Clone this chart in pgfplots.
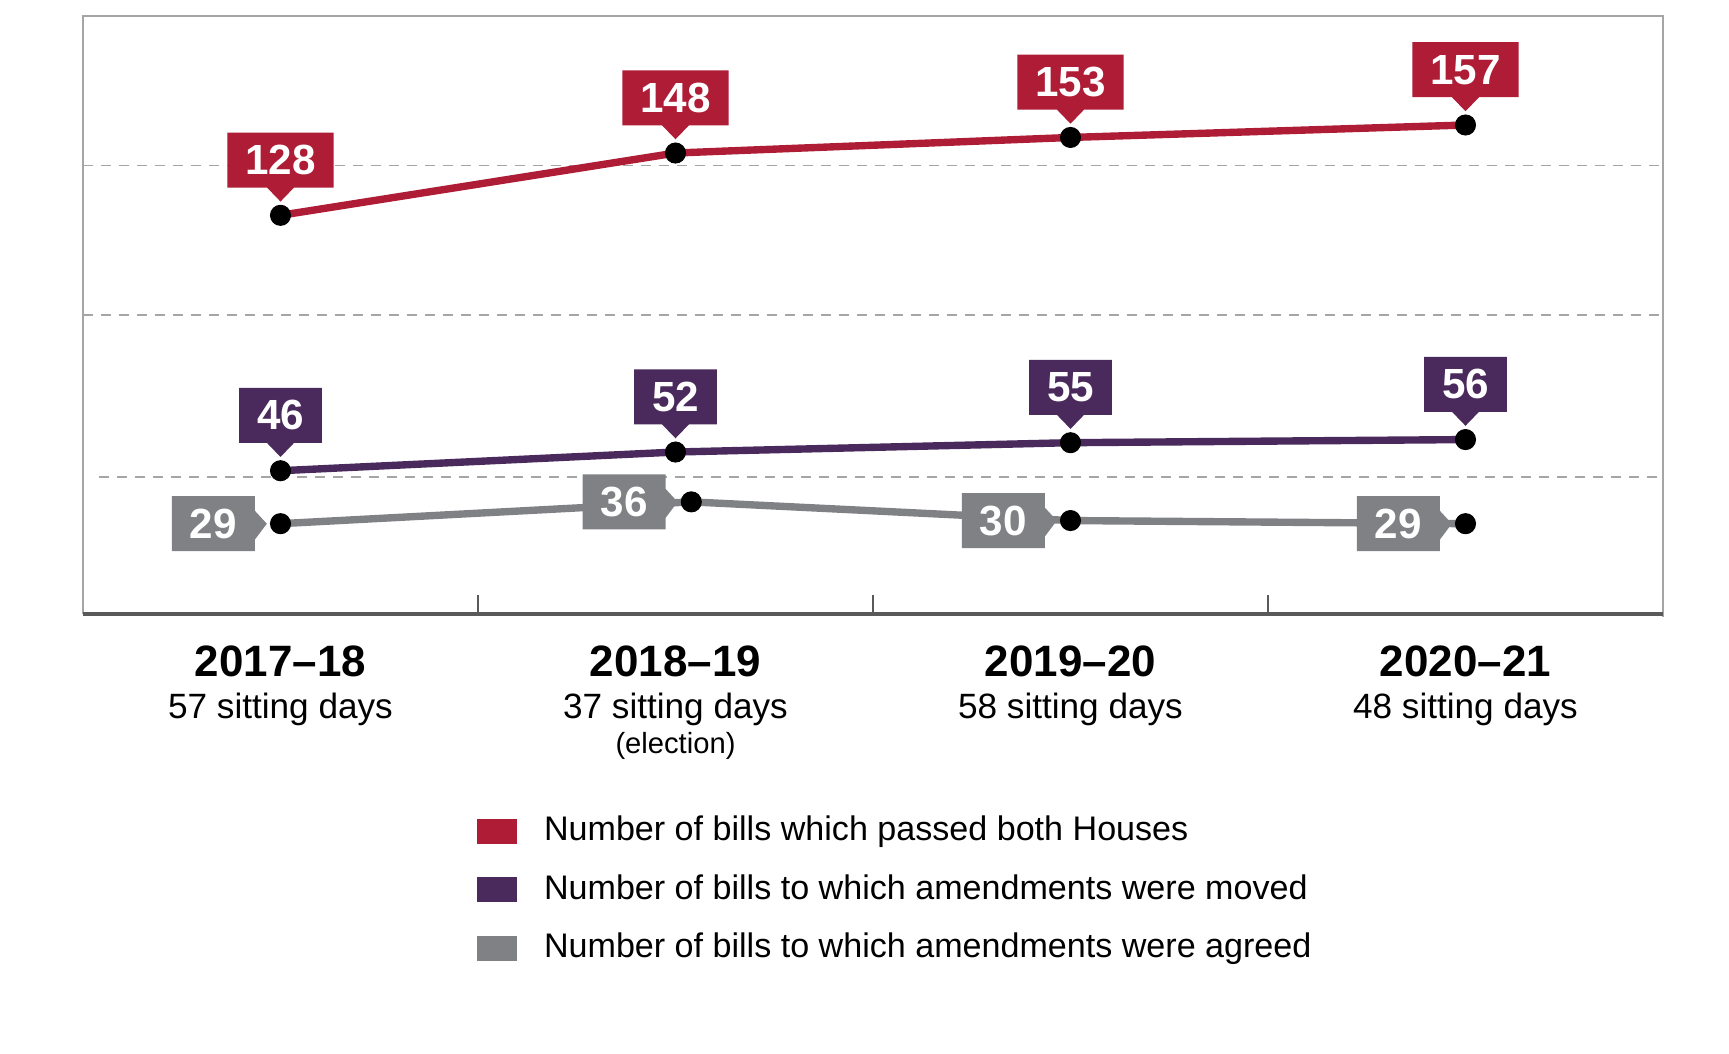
\documentclass[border=0pt]{standalone}
\usepackage{fontspec}
\setmainfont{Liberation Sans}
\usepackage{pgfplots}
\usepackage{pgfplotstable}
\pgfplotsset{compat=1.18}
\usetikzlibrary{shapes.callouts}

\definecolor{billred}{RGB}{174,28,53}
\definecolor{billpurple}{RGB}{74,42,92}
\definecolor{billgray}{RGB}{128,129,133}
\definecolor{framegray}{RGB}{165,165,165}
\definecolor{axisgray}{RGB}{90,90,90}

% bills which passed both Houses
\pgfplotstableread{
x y
0 128
1 148
2 153
3 157
}\passed
% bills to which amendments were moved
\pgfplotstableread{
x y
0 46
1 52
2 55
3 56
}\moved
% bills to which amendments were agreed
\pgfplotstableread{
x y
0    29
1.04 36
2    30
3    29
}\agreed

\tikzset{
  boxlabel/.style={rectangle callout, text=white,
    font=\fontsize{12}{12}\selectfont\bfseries,
    inner xsep=1.8mm, inner ysep=0pt, minimum height=5.5mm, anchor=pointer},
  upcallout/.style={boxlabel, callout relative pointer={(0mm,-1.4mm)},
    callout pointer width=2.7mm, yshift=1.3mm},
  leftcallout/.style={boxlabel, callout relative pointer={(1.2mm,0mm)},
    callout pointer width=2.9mm, xshift=-1.3mm},
  gridline/.style={framegray, line width=0.4pt, dash pattern=on 1mm off 0.8mm},
}

\begin{document}
\begin{tikzpicture}
\begin{axis}[
  width=158.0mm, height=59.8mm, scale only axis,
  xmin=-0.5, xmax=3.5, ymin=0, ymax=192,
  clip=false,
  axis line style={draw=none},
  /pgf/number format/assume math mode=true,
  xtick={0,1,2,3},
  xticklabels={
    {{\fontsize{12.5}{12}\selectfont\bfseries 2017--18}\\57 sitting days},
    {{\fontsize{12.5}{12}\selectfont\bfseries 2018--19}\\37 sitting days\\[-1.9pt]{\fontsize{8.3}{9}\selectfont (election)}},
    {{\fontsize{12.5}{12}\selectfont\bfseries 2019--20}\\58 sitting days},
    {{\fontsize{12.5}{12}\selectfont\bfseries 2020--21}\\48 sitting days}},
  xticklabel style={align=center, font=\fontsize{10}{11.9}\selectfont,
    inner sep=0pt, anchor=north, yshift=-3.1mm},
  minor xtick={0.5,1.5,2.5},
  major tick length=0pt,
  minor tick length=1.9mm,
  minor tick style={axisgray, line width=0.8pt},
  xtick pos=bottom,
  tick align=inside,
  ytick={96,144}, yticklabels={},
  ytick style={draw=none},
  ymajorgrids,
  major grid style={gridline},
  legend style={at={(0.2494,-0.337)}, anchor=north west, draw=none, fill=none,
    inner sep=0pt, outer sep=0pt, row sep=2.75mm,
    font=\fontsize{9.7}{11}\selectfont,
    nodes={inner sep=0pt, text height=2.5mm, text depth=0.6mm},
    /tikz/every odd column/.append style={column sep=2.7mm}},
  legend cell align=left,
  legend image code/.code={\fill[#1,draw=none] (0mm,-1.25mm) rectangle (4mm,1.25mm);},
]
% lowest grid line starts a little inside the frame
\draw[gridline] (axis cs:-0.46,44) -- (axis cs:3.5,44);

\addplot[color=billred, line width=2.1pt, mark=*, mark size=1.0mm,
  mark options={draw=black, fill=black, line width=0.3pt},
  nodes near coords, nodes near coords style={upcallout, fill=billred}]
  table {\passed};
\addlegendentry{Number of bills which passed both Houses}
\addplot[color=billpurple, line width=2.1pt, mark=*, mark size=1.0mm,
  mark options={draw=black, fill=black, line width=0.3pt},
  nodes near coords, nodes near coords style={upcallout, fill=billpurple}]
  table {\moved};
\addlegendentry{Number of bills to which amendments were moved}
\addplot[color=billgray, line width=2.1pt, mark=*, mark size=1.0mm,
  mark options={draw=black, fill=black, line width=0.3pt},
  nodes near coords, nodes near coords style={leftcallout, fill=billgray}]
  table {\agreed};
\addlegendentry{Number of bills to which amendments were agreed}

% frame: thin grey box, heavy base line
\draw[framegray, line width=0.45pt] (rel axis cs:0,0) -- (rel axis cs:0,1)
  -- (rel axis cs:1,1) -- (rel axis cs:1,0) -- ++(0mm,-0.3mm);
\draw[axisgray, line width=1.2pt] (rel axis cs:0,0) -- (rel axis cs:1,0);
\end{axis}
\path (current axis.south west) ++(-8.3mm,-44.0mm) rectangle ++(172.9mm,105.4mm);
\end{tikzpicture}
\end{document}
